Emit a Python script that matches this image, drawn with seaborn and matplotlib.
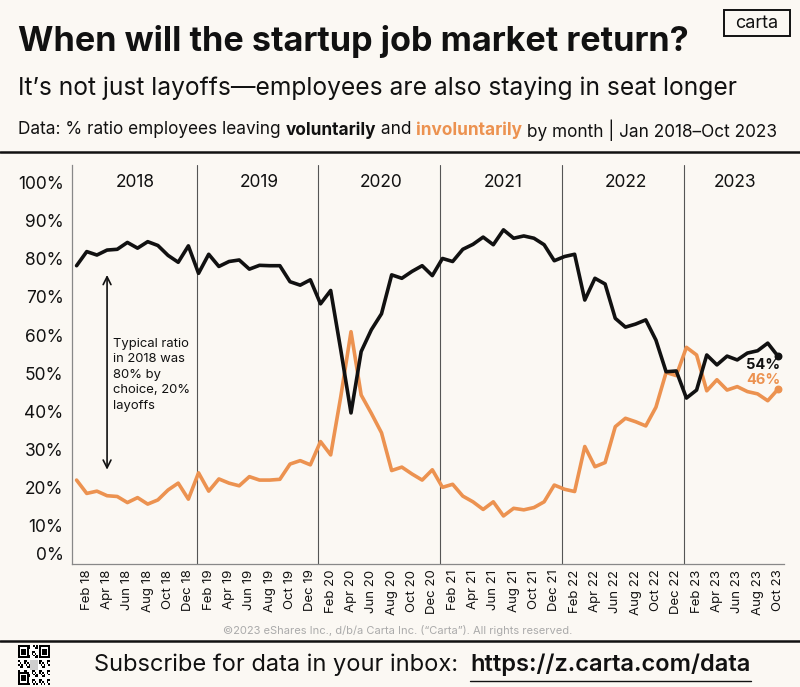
import matplotlib
matplotlib.use("Agg")
import matplotlib.pyplot as plt
import seaborn as sns
import numpy as np
import pandas as pd
from matplotlib.patches import Rectangle

# ---------------- data ----------------
months = ["Jan", "Feb", "Mar", "Apr", "May", "Jun", "Jul", "Aug", "Sep", "Oct", "Nov", "Dec"]
years = [2018, 2019, 2020, 2021, 2022, 2023]
year_labels = ["2018", "2019", "2020", "2021", "2022", "2023"]

voluntary = [
    78.2, 81.9, 81.0, 82.3, 82.5, 84.3, 82.8, 84.5, 83.5, 80.9, 79.1, 83.4,   # 2018
    76.2, 81.2, 78.0, 79.3, 79.7, 77.3, 78.3, 78.2, 78.2, 74.0, 73.1, 74.5,   # 2019
    68.2, 71.7, 56.0, 39.6, 55.7, 61.4, 65.6, 75.8, 74.9, 76.7, 78.2, 75.6,   # 2020
    80.1, 79.3, 82.5, 83.8, 85.7, 83.7, 87.6, 85.4, 86.0, 85.4, 83.7, 79.5,   # 2021
    80.6, 81.2, 69.2, 74.9, 73.4, 64.4, 62.1, 62.9, 64.0, 58.7, 50.4, 50.6,   # 2022
    43.5, 45.6, 54.8, 52.2, 54.5, 53.5, 55.3, 55.9, 57.9, 54.5,               # 2023
]
involuntary = [
    22.0, 18.5, 19.1, 17.9, 17.7, 16.1, 17.4, 15.7, 16.8, 19.4, 21.2, 17.0,   # 2018
    23.9, 19.1, 22.3, 21.2, 20.5, 22.9, 22.0, 22.0, 22.2, 26.2, 27.1, 26.0,   # 2019
    32.1, 28.6, 44.0, 60.9, 44.3, 39.5, 34.4, 24.5, 25.4, 23.6, 22.0, 24.7,   # 2020
    20.1, 20.9, 17.8, 16.3, 14.3, 16.3, 12.6, 14.6, 14.2, 14.8, 16.3, 20.7,   # 2021
    19.6, 19.0, 30.8, 25.5, 26.6, 36.0, 38.2, 37.3, 36.2, 41.1, 50.2, 49.4,   # 2022
    56.8, 54.8, 45.4, 48.3, 45.6, 46.5, 45.2, 44.6, 42.8, 45.8,               # 2023
]
end_labels = ["54%", "46%"]
y_ticks = [0, 10, 20, 30, 40, 50, 60, 70, 80, 90, 100]
y_tick_labels = [f"{v}%" for v in y_ticks]

n = len(voluntary)
month_idx = list(range(n))
month_names = [f"{months[i % 12]} {str(2018 + i // 12)[2:]}" for i in range(n)]

BG = "#FBF8F3"
ORANGE = "#EC9250"
BLACK = "#111111"
FONT = "Inter"

df = pd.DataFrame({
    "idx": month_idx * 2,
    "value": voluntary + involuntary,
    "kind": ["voluntary"] * n + ["involuntary"] * n,
})

sns.set_theme(style="white")
plt.rcParams["font.family"] = [FONT, "DejaVu Sans"]

fig = plt.figure(figsize=(8.0, 6.87), dpi=100, facecolor=BG)
ax = fig.add_axes([72 / 800, 1 - 564 / 687, (784 - 72) / 800, (564 - 165) / 687])
ax.set_facecolor(BG)

sns.lineplot(data=df, x="idx", y="value", hue="kind",
             palette={"voluntary": BLACK, "involuntary": ORANGE},
             hue_order=["involuntary", "voluntary"],
             linewidth=2.6, ax=ax, legend=False)

# end dots
ax.scatter([month_idx[-1]], [voluntary[-1]], s=22, color=BLACK, zorder=5)
ax.scatter([month_idx[-1]], [involuntary[-1]], s=22, color=ORANGE, zorder=5)
ax.text(month_idx[-1] + 0.25, 52.1, end_labels[0], ha="right", va="center",
        fontsize=10.5, fontweight="bold", color=BLACK)
ax.text(month_idx[-1] + 0.25, 48.3, end_labels[1], ha="right", va="center",
        fontsize=10.5, fontweight="bold", color=ORANGE)

ax.set_xlim(-0.45, 69.6)
ax.set_ylim(0, 104.6)

# year separators and labels
bounds = [-0.45] + [12 * k for k in range(1, 6)] + [69.6]
for k in range(1, 6):
    ax.axvline(12 * k - 0.2, color="#555555", lw=0.8, zorder=1)
for k, lab in enumerate(year_labels):
    ax.text((bounds[k] + bounds[k + 1]) / 2, 100, lab, ha="center", va="center",
            fontsize=12.5, color=BLACK)

# axes styling
for s in ["top", "right"]:
    ax.spines[s].set_visible(False)
for s in ["left", "bottom"]:
    ax.spines[s].set_color("#888888")
    ax.spines[s].set_linewidth(0.9)

ax.set_yticks(y_ticks)
ax.set_yticklabels(y_tick_labels, fontsize=12.5, color=BLACK)
ax.tick_params(axis="y", length=0, pad=6)
ticks_x = month_idx[1::2]
ax.set_xticks(ticks_x)
ax.set_xticklabels([month_names[i] for i in ticks_x], rotation=90, fontsize=9.5, color=BLACK)
ax.tick_params(axis="x", length=0, pad=4)
for lab in ax.get_yticklabels():
    if lab.get_text() == "0%":
        lab.set_va("bottom")
ax.set_xlabel("")
ax.set_ylabel("")

# annotation arrow
ax.annotate("", xy=(3, 24), xytext=(3, 76.5),
            arrowprops=dict(arrowstyle="<->", color=BLACK, lw=1.2, mutation_scale=14))
ax.text(3.6, 49.6, "Typical ratio\nin 2018 was\n80% by\nchoice, 20%\nlayoffs", ha="left", va="center",
        fontsize=9.4, color=BLACK, linespacing=1.38)

# ---------------- header ----------------
fig.text(18 / 800, 1 - 41 / 687, "When will the startup job market return?", fontsize=24.6,
         fontweight="bold", color=BLACK, ha="left", va="center")
fig.text(18 / 800, 1 - 88 / 687, "It\u2019s not just layoffs\u2014employees are also staying in seat longer",
         fontsize=17.7, color=BLACK, ha="left", va="center")

# multi-colour data line
pieces = [("Data: % ratio employees leaving ", BLACK, "normal"),
          ("voluntarily", BLACK, "bold"),
          (" and ", BLACK, "normal"),
          ("involuntarily", ORANGE, "bold"),
          (" by month | Jan 2018\u2013Oct 2023", BLACK, "normal")]
fig.canvas.draw()
renderer = fig.canvas.get_renderer()
xpos = 18
for txt, col, w in pieces:
    t = fig.text(xpos / 800, 1 - 130 / 687, txt, fontsize=12.4, color=col, fontweight=w,
                 ha="left", va="center")
    bb = t.get_window_extent(renderer=renderer)
    xpos += bb.width

# carta logo box
fig.patches.append(Rectangle((724 / 800, 1 - 36 / 687), 66 / 800, 26 / 687, transform=fig.transFigure,
                             fill=False, edgecolor=BLACK, lw=1.4))
fig.text(757 / 800, 1 - 23 / 687, "carta", fontsize=13, ha="center", va="center", color=BLACK)

# separators
fig.add_artist(plt.Line2D([0, 1], [1 - 152 / 687] * 2, transform=fig.transFigure, color=BLACK, lw=1.8))
fig.add_artist(plt.Line2D([0, 1], [1 - 641 / 687] * 2, transform=fig.transFigure, color=BLACK, lw=1.8))

# footer
fig.text(398 / 800, 1 - 631 / 687,
         "\u00a92023 eShares Inc., d/b/a Carta Inc. (\u201cCarta\u201d). All rights reserved.",
         fontsize=8.0, color="#AAAAAA", ha="center", va="center")
t1 = fig.text(94 / 800, 1 - 665 / 687, "Subscribe for data in your inbox:", fontsize=17,
              color=BLACK, ha="left", va="center")
fig.canvas.draw()
bb = t1.get_window_extent(renderer=renderer)
t2 = fig.text((bb.x1 + 12) / 800, 1 - 665 / 687, "https://z.carta.com/data", fontsize=17,
              color=BLACK, fontweight="semibold", ha="left", va="center")
bb2 = t2.get_window_extent(renderer=renderer)
fig.add_artist(plt.Line2D([bb2.x0 / 800, bb2.x1 / 800], [1 - 681 / 687] * 2,
                          transform=fig.transFigure, color=BLACK, lw=1.0))

# QR-like mark
qax = fig.add_axes([18 / 800, 1 - 685 / 687, 32 / 800, 40 / 687])
qn = 21
grid = np.zeros((qn, qn))
for i in range(qn):
    for j in range(qn):
        grid[i, j] = 1 if ((i * 7 + j * 13 + i * j) % 5) < 2 else 0
for (r0, c0) in [(0, 0), (0, qn - 7), (qn - 7, 0)]:
    grid[r0:r0 + 7, c0:c0 + 7] = 1
    grid[r0 + 1:r0 + 6, c0 + 1:c0 + 6] = 0
    grid[r0 + 2:r0 + 5, c0 + 2:c0 + 5] = 1
grid[8:13, 8:13] = 0.3
qax.imshow(grid, cmap="Greys", vmin=0, vmax=1, aspect="auto", interpolation="nearest")
qax.axis("off")

fig.savefig("out.png", dpi=100, facecolor=BG)
